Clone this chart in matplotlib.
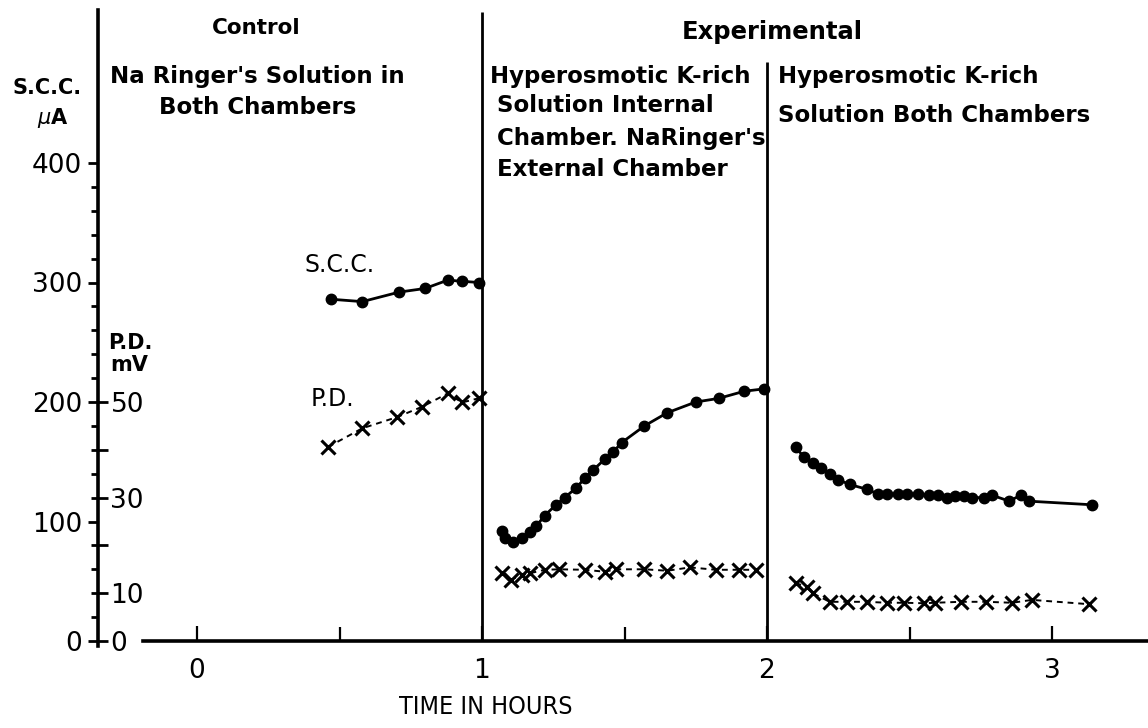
"""Short-circuit current and potential difference across the skin, control vs hyperosmotic K-rich solutions"""
import numpy as np
import matplotlib.pyplot as plt
from matplotlib.ticker import FixedLocator, NullFormatter

# --- readings (time in hours, S.C.C. in uA, P.D. in mV) ---
ctrl_scc_t = [0.47, 0.58, 0.71, 0.80, 0.88, 0.93, 0.99]
ctrl_scc = [286, 284, 292, 295, 302, 301, 300]
ctrl_pd_t = [0.46, 0.58, 0.70, 0.79, 0.88, 0.93, 0.99]
ctrl_pd = [40.6, 44.5, 46.8, 49.0, 51.8, 49.9, 50.8]

exp1_scc_t = [1.07, 1.08, 1.11, 1.14, 1.17, 1.19, 1.22, 1.26, 1.29, 1.33, 1.36,
              1.39, 1.43, 1.46, 1.49, 1.57, 1.65, 1.75, 1.83, 1.92, 1.99]
exp1_scc = [92, 86, 83, 86, 91, 96, 105, 114, 120, 128, 136,
            143, 152, 158, 166, 180, 191, 200, 203, 209, 211]
exp1_pd_t = [1.07, 1.10, 1.14, 1.17, 1.22, 1.27, 1.36, 1.43, 1.47, 1.57,
             1.65, 1.73, 1.82, 1.90, 1.96]
exp1_pd = [14.2, 12.8, 13.8, 14.2, 14.9, 15.0, 14.9, 14.5, 15.0, 15.0,
           14.7, 15.4, 14.9, 14.9, 14.9]

exp2_scc_t = [2.10, 2.13, 2.16, 2.19, 2.22, 2.25, 2.29, 2.35, 2.39, 2.42, 2.46,
              2.49, 2.53, 2.57, 2.60, 2.63, 2.66, 2.69, 2.72, 2.76, 2.79, 2.85,
              2.89, 2.92, 3.14]
exp2_scc = [162, 154, 149, 145, 140, 135, 131, 127, 123, 123, 123,
            123, 123, 122, 122, 120, 121, 121, 120, 120, 122, 117,
            122, 117, 114]
exp2_pd_t = [2.10, 2.14, 2.16, 2.22, 2.28, 2.35, 2.42, 2.48, 2.55, 2.59,
             2.68, 2.77, 2.86, 2.93, 3.13]
exp2_pd = [12.1, 11.4, 10.0, 8.2, 8.2, 8.2, 8.0, 8.0, 7.9, 8.0,
           8.2, 8.2, 8.0, 8.6, 7.7]

phase_bounds = [1, 2]
scc_ticks = [0, 100, 200, 300, 400]
pd_ticks = [0, 10, 30, 50]
pd_minor = [20, 40]
hour_ticks = [0, 1, 2, 3]

W, H = 1148, 728
fig = plt.figure(figsize=(W / 100, H / 100), dpi=100)
ax = fig.add_axes([0, 0, 1, 1])
ax.patch.set_visible(False)

# pixel mapping: t=0 at x=197, 285 px per hour; 0 uA at y=641, 1.195 px per uA
x0, px_hr = 197, 285
y0, px_ua = 641, 1.195
ax.set_xlim(-x0 / px_hr, (W - x0) / px_hr)
ax.set_ylim((y0 - H) / px_ua, y0 / px_ua)
yaxis_t = (98 - x0) / px_hr


def fx(px):
    return px / W


def fy(py):
    return 1 - py / H


for s in ['top', 'right']:
    ax.spines[s].set_visible(False)
ax.spines['left'].set_position(('data', yaxis_t))
ax.spines['left'].set_bounds((y0 - 646) / px_ua, (y0 - 10) / px_ua)
ax.spines['left'].set_linewidth(2.6)
ax.spines['bottom'].set_position(('data', 0))
ax.spines['bottom'].set_bounds((143 - x0) / px_hr, (W - x0) / px_hr)
ax.spines['bottom'].set_linewidth(2.6)

tick_font = dict(fontsize=19, family='DejaVu Sans')
ax.set_yticks(scc_ticks)
ax.set_yticklabels([str(v) for v in scc_ticks], **tick_font)
ax.yaxis.set_minor_locator(FixedLocator(np.arange(0, 401, 20)))
ax.tick_params(axis='y', which='major', direction='out', length=7.5, width=2, pad=4)
ax.tick_params(axis='y', which='minor', direction='out', length=5, width=2)

ax.set_xticks(hour_ticks)
ax.set_xticklabels([str(v) for v in hour_ticks], **tick_font)
ax.xaxis.set_minor_locator(FixedLocator([0.5, 1.5, 2.5]))
ax.tick_params(axis='x', which='major', direction='in', length=11, width=1.6, pad=12)
ax.tick_params(axis='x', which='minor', direction='in', length=10, width=1.6)

# P.D. scale shares the same vertical line, ticks pointing right
ax2 = ax.twinx()
ax2.set_position([0, 0, 1, 1])
ax2.set_ylim(ax.get_ylim()[0] / 4, ax.get_ylim()[1] / 4)
for s in ['top', 'left', 'bottom']:
    ax2.spines[s].set_visible(False)
ax2.spines['right'].set_position(('data', yaxis_t))
ax2.spines['right'].set_visible(False)
ax2.set_yticks(pd_ticks)
ax2.set_yticklabels([str(v) for v in pd_ticks], **tick_font)
ax2.yaxis.set_minor_locator(FixedLocator(pd_minor))
ax2.yaxis.set_minor_formatter(NullFormatter())
ax2.tick_params(axis='y', which='both', direction='out', length=7, width=2, pad=2)

# phase separators
ax.vlines(phase_bounds[0], 0, (y0 - 12) / px_ua, color='black', lw=2)
ax.vlines(phase_bounds[1], 0, (y0 - 62) / px_ua, color='black', lw=2)

scc_style = dict(color='black', lw=2, marker='o', ms=7.5, zorder=4)
pd_style = dict(color='black', lw=1.4, ls=(0, (3, 2.5)), marker='x', ms=10, mew=2.2, zorder=4)
for t, v in [(ctrl_scc_t, ctrl_scc), (exp1_scc_t, exp1_scc), (exp2_scc_t, exp2_scc)]:
    ax.plot(t, v, **scc_style)
for t, v in [(ctrl_pd_t, ctrl_pd), (exp1_pd_t, exp1_pd), (exp2_pd_t, exp2_pd)]:
    ax2.plot(t, v, **pd_style)

hdr = dict(fontsize=16.5, fontweight='bold', family='DejaVu Sans')
fig.text(fx(256), fy(28), 'Control', ha='center', va='center', **dict(hdr, fontsize=15.5))
fig.text(fx(772), fy(32), 'Experimental', ha='center', va='center', **dict(hdr, fontsize=17.5))
fig.text(fx(110), fy(76), "Na Ringer's Solution in", ha='left', va='center', **hdr)
fig.text(fx(258), fy(108), 'Both Chambers', ha='center', va='center', **hdr)
fig.text(fx(490), fy(76), 'Hyperosmotic K-rich', ha='left', va='center', **hdr)
fig.text(fx(497), fy(106), 'Solution Internal', ha='left', va='center', **hdr)
fig.text(fx(497), fy(138), "Chamber. NaRinger's", ha='left', va='center', **hdr)
fig.text(fx(497), fy(170), 'External Chamber', ha='left', va='center', **hdr)
fig.text(fx(778), fy(76), 'Hyperosmotic K-rich', ha='left', va='center', **hdr)
fig.text(fx(778), fy(116), 'Solution Both Chambers', ha='left', va='center', **hdr)

lab = dict(fontsize=15, fontweight='bold', family='DejaVu Sans')
fig.text(fx(47), fy(88), 'S.C.C.', ha='center', va='center', **lab)
fig.text(fx(53), fy(118), r'$\mu$A', ha='center', va='center', **lab)
fig.text(fx(108), fy(343), 'P.D.', ha='left', va='center', **lab)
fig.text(fx(110), fy(365), 'mV', ha='left', va='center', **lab)
fig.text(fx(340), fy(265), 'S.C.C.', ha='center', va='center', fontsize=17, family='DejaVu Sans')
fig.text(fx(332), fy(399), 'P.D.', ha='center', va='center', fontsize=17, family='DejaVu Sans')
fig.text(fx(486), fy(707), 'TIME IN HOURS', ha='center', va='center', fontsize=18,
         family='DejaVu Sans', stretch='condensed')

fig.savefig('out.png', dpi=100)
